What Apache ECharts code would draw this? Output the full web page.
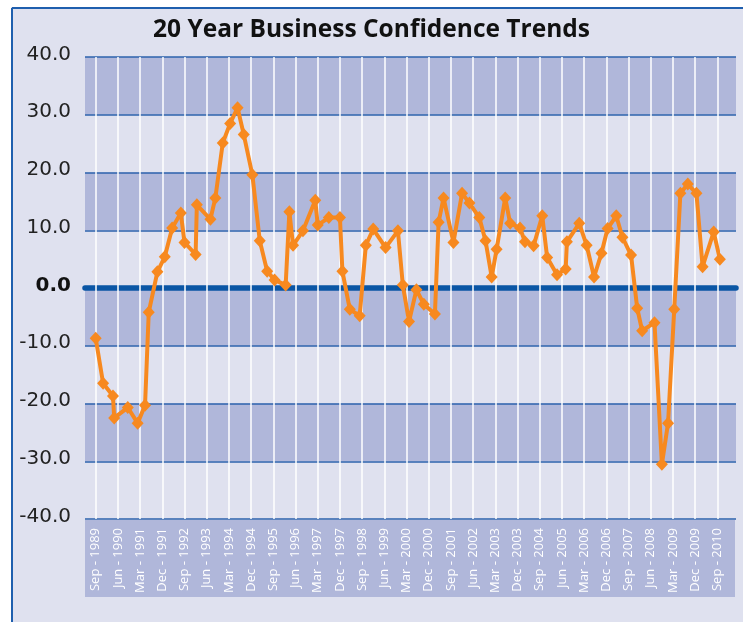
<!DOCTYPE html>
<html>
<head>
<meta charset="utf-8">
<script src="https://cdn.jsdelivr.net/npm/echarts@6/dist/echarts.min.js"></script>
<style>
  html, body { margin: 0; padding: 0; background: #ffffff; }
  #chart { width: 743px; height: 622px; }
</style>
</head>
<body>
<div id="chart"></div>
<script>
// Survey timing, in months after September 1989
var surveyMonths = [0, 3, 7, 7.5, 13, 17, 20, 21.5, 25, 28, 31, 34.5, 36, 40.5, 41, 46.5, 48.5, 51.5, 54.5, 57.5,
  60, 63.5, 66.5, 69.5, 72.5, 77, 78.5, 80, 84, 89, 90, 94.5, 99, 100, 103, 107, 109.5, 112.5, 117.5, 122.5,
  124.5, 127, 130, 133, 137.5, 139, 141, 145, 148.5, 151.5, 155.5, 158, 160.5, 162.5, 166, 168, 172, 174, 177.5, 181,
  183, 187, 190.5, 191, 196, 199, 202, 205, 207.5, 211, 213.5, 217, 219.5, 221.5, 226.5, 229.5, 232, 234.5, 237, 240,
  243.5, 246, 250.5, 253];
// Business confidence index values
var confidence = [-8.7, -16.5, -18.7, -22.5, -20.7, -23.4, -20.3, -4.2, 2.8, 5.4, 10.4, 13.0, 7.9, 5.8, 14.4, 11.9, 15.6, 25.1, 28.5, 31.2,
  26.6, 19.6, 8.2, 2.9, 1.4, 0.5, 13.2, 7.4, 9.9, 15.2, 10.9, 12.2, 12.2, 2.9, -3.7, -4.8, 7.4, 10.2, 7.0, 9.9,
  0.5, -5.8, -0.3, -2.8, -4.5, 11.4, 15.6, 7.9, 16.4, 14.7, 12.2, 8.2, 1.9, 6.7, 15.6, 11.2, 10.4, 8.0, 7.3, 12.5,
  5.3, 2.3, 3.3, 8.0, 11.2, 7.4, 1.9, 6.0, 10.3, 12.5, 8.8, 5.7, -3.5, -7.4, -6.0, -30.5, -23.4, -3.7, 16.4, 18.0,
  16.4, 3.7, 9.7, 5.0];
// Category tick labels (every 9 months)
var tickLabels = ['Sep - 1989', 'Jun - 1990', 'Mar - 1991', 'Dec - 1991', 'Sep - 1992', 'Jun - 1993', 'Mar - 1994',
  'Dec - 1994', 'Sep - 1995', 'Jun - 1996', 'Mar - 1997', 'Dec - 1997', 'Sep - 1998', 'Jun - 1999', 'Mar - 2000',
  'Dec - 2000', 'Sep - 2001', 'Jun - 2002', 'Mar - 2003', 'Dec - 2003', 'Sep - 2004', 'Jun - 2005', 'Mar - 2006',
  'Dec - 2006', 'Sep - 2007', 'Jun - 2008', 'Mar - 2009', 'Dec - 2009', 'Sep - 2010'];
var yTicks = [-40, -30, -20, -10, 0, 10, 20, 30, 40];

var points = surveyMonths.map(function (m, i) { return [m, confidence[i]]; });

var chart = echarts.init(document.getElementById('chart'), null, { renderer: 'canvas' });
chart.setOption({
  animation: false,
  backgroundColor: '#dfe1ef',
  title: {
    text: '20 Year Business Confidence Trends',
    left: 'center',
    top: 13,
    textStyle: { fontFamily: 'Open Sans', fontWeight: 'bold', fontSize: 24.5, color: '#111111' }
  },
  graphic: {
    elements: [
      { type: 'rect', z: -10, shape: { x: 85, y: 520, width: 650, height: 77 }, style: { fill: '#b0b7da' } },
      { type: 'rect', z: 10, shape: { x: 0, y: 0, width: 743, height: 7 }, style: { fill: '#ffffff' } },
      { type: 'rect', z: 10, shape: { x: 0, y: 0, width: 11, height: 622 }, style: { fill: '#ffffff' } },
      { type: 'line', z: 11, shape: { x1: 12, y1: 8, x2: 743, y2: 8 }, style: { stroke: '#1f5fae', lineWidth: 2 } },
      { type: 'line', z: 11, shape: { x1: 12, y1: 8, x2: 12, y2: 622 }, style: { stroke: '#1f5fae', lineWidth: 2 } }
    ]
  },
  grid: [
    { left: 85, right: 7, top: 57, bottom: 103 },
    { left: 95.7, right: 25.6, top: 57, bottom: 103 }
  ],
  xAxis: [
    {
      gridIndex: 0, type: 'value', min: 0, max: 1, z: 1,
      axisLine: { show: true, onZero: true, lineStyle: { color: '#0a56a5', width: 5.5 } },
      axisTick: { show: false }, axisLabel: { show: false }, splitLine: { show: false }
    },
    {
      gridIndex: 1, type: 'value', min: 0, max: 252, interval: 9, z: 2,
      axisLine: { show: false }, axisTick: { show: false },
      splitLine: { show: true, lineStyle: { color: '#ffffff', width: 1.5 } },
      axisLabel: {
        rotate: 90, margin: 9, color: '#ffffff', fontSize: 13, fontFamily: 'Open Sans',
        showMinLabel: true, showMaxLabel: true,
        formatter: function (v) { var k = Math.round(v / 9); return tickLabels[k] || ''; }
      }
    }
  ],
  yAxis: [
    {
      gridIndex: 0, type: 'value', min: yTicks[0], max: yTicks[yTicks.length - 1], interval: 10, z: 0,
      axisLine: { show: false }, axisTick: { show: false },
      splitLine: { show: true, lineStyle: { color: '#2c62ad', width: 1.5 } },
      splitArea: { show: true, areaStyle: { color: ['#dfe1ef', '#b0b7da'] } },
      axisLabel: {
        margin: 14, color: '#222222', fontSize: 20, fontFamily: 'DejaVu Sans', padding: [0, 0, 5, 0],
        formatter: function (v) { return v === 0 ? '{b|0.0}' : v.toFixed(1); },
        rich: { b: { fontWeight: 'bold', fontSize: 20, fontFamily: 'DejaVu Sans', color: '#111111' } }
      }
    },
    { gridIndex: 1, type: 'value', min: -40, max: 40, show: false }
  ],
  series: [
    {
      type: 'line', xAxisIndex: 1, yAxisIndex: 1, data: points, clip: false, z: 5,
      symbol: 'diamond', symbolSize: [12, 13], showAllSymbol: true,
      lineStyle: { color: '#f7891f', width: 4 },
      itemStyle: { color: '#f7891f' }
    }
  ]
});
</script>
</body>
</html>
